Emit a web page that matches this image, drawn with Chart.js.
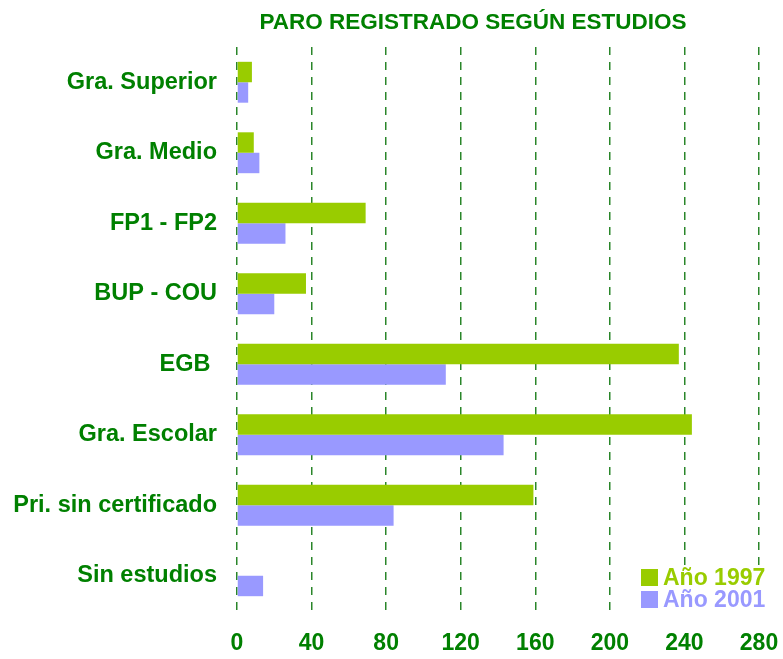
<!DOCTYPE html>
<html lang="es">
<head>
    <meta charset="UTF-8">
    <title>Paro registrado según estudios</title>
    <script src="https://cdn.jsdelivr.net/npm/chart.js"></script>
    <style>
        body { margin: 0; background: white; font-family: Arial, 'Liberation Sans', sans-serif; }
        .wrap { position: relative; width: 783px; height: 659px; }
        .titulo { position: absolute; left: 473px; top: 9px; transform: translateX(-50%); white-space: nowrap;
                  font-weight: bold; font-size: 22.5px; color: #008000; line-height: 26px; }
        .leyenda { position: absolute; left: 641px; top: 566px; background: white; padding-right: 4px; }
        .leyenda div { display: flex; align-items: center; height: 22px; font-weight: bold; font-size: 23px; }
        .leyenda span.cuadro { display: inline-block; width: 17px; height: 17px; margin-right: 5px; }
    </style>
</head>
<body>
    <div class="wrap">
        <canvas id="grafico" width="783" height="659"></canvas>
        <div class="titulo">PARO REGISTRADO SEGÚN ESTUDIOS</div>
        <div class="leyenda" id="leyenda"></div>
    </div>

    <script>
        // Datos
        const categorias = ['Gra. Superior', 'Gra. Medio', 'FP1 - FP2', 'BUP - COU', 'EGB ', 'Gra. Escolar', 'Pri. sin certificado', 'Sin estudios'];
        const anio1997 = [8, 9, 69, 37, 237, 244, 159, 0];
        const anio2001 = [6, 12, 26, 20, 112, 143, 84, 14];
        const series = ['Año 1997', 'Año 2001'];
        const colores = ['#99cc00', '#9999ff'];

        const verde = '#008000';
        const fuente = "Arial, 'Liberation Sans', sans-serif";

        const datasets = [anio1997, anio2001].map((valores, i) => ({
            label: series[i],
            data: valores,
            backgroundColor: colores[i],
            borderWidth: 0,
            categoryPercentage: 0.58,
            barPercentage: 1.0
        }));

        new Chart(document.getElementById('grafico'), {
            type: 'bar',
            data: { labels: categorias, datasets: datasets },
            options: {
                indexAxis: 'y',
                responsive: false,
                animation: false,
                layout: { padding: { top: 47, right: 24, left: 0, bottom: 0 } },
                plugins: {
                    legend: { display: false },
                    tooltip: { enabled: false }
                },
                scales: {
                    x: {
                        min: 0,
                        max: 280,
                        ticks: {
                            stepSize: 40,
                            color: verde,
                            padding: 1,
                            font: { family: fuente, size: 23, weight: 'bold' }
                        },
                        // marcas invisibles: solo separan las etiquetas del área
                        grid: { color: '#2a862a', lineWidth: 1.5, drawTicks: true, tickLength: 18, tickColor: 'rgba(0,0,0,0)' },
                        border: { display: false, dash: [8, 7] },
                        afterFit: (eje) => { eje.height = 48; }
                    },
                    y: {
                        ticks: {
                            color: verde,
                            padding: 20,
                            font: { family: fuente, size: 23.5, weight: 'bold' }
                        },
                        grid: { display: false, drawTicks: false },
                        border: { display: false },
                        afterFit: (eje) => { eje.width = 237; }
                    }
                }
            }
        });

        // Leyenda dentro del área del gráfico
        const leyenda = document.getElementById('leyenda');
        series.forEach((nombre, i) => {
            const fila = document.createElement('div');
            fila.style.color = colores[i];
            fila.innerHTML = `<span class="cuadro" style="background:${colores[i]}"></span>${nombre}`;
            leyenda.appendChild(fila);
        });
    </script>
</body>
</html>
